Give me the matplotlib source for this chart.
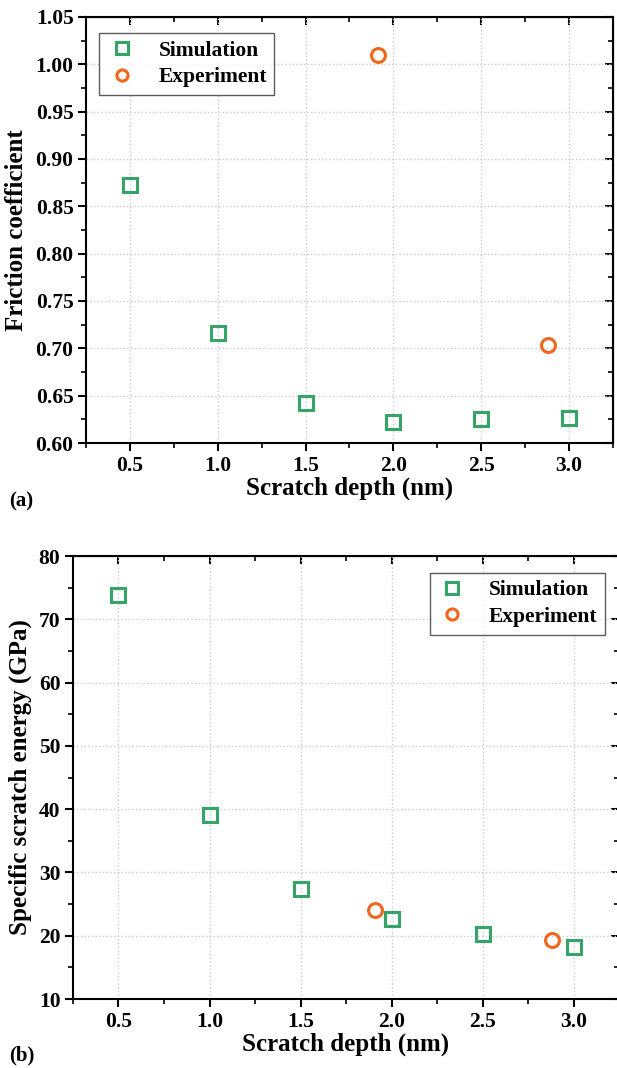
import matplotlib.pyplot as plt
from matplotlib.ticker import MultipleLocator, FormatStrFormatter

plt.rcParams['font.family'] = ['Liberation Serif', 'DejaVu Serif']
plt.rcParams['font.weight'] = 'bold'

# friction coefficient vs scratch depth
depth_sim = [0.5, 1.0, 1.5, 2.0, 2.5, 3.0]
friction_sim = [0.873, 0.716, 0.642, 0.622, 0.625, 0.626]
depth_exp = [1.91, 2.88]
friction_exp = [1.010, 0.703]

# specific scratch energy vs scratch depth
energy_sim = [73.9, 39.1, 27.4, 22.6, 20.3, 18.2]
energy_exp = [24.0, 19.4]

green = '#35a567'
orange = '#f0671c'


def style_axes(ax, ymajor, yminor, yfmt):
    ax.xaxis.set_major_locator(MultipleLocator(0.5))
    ax.xaxis.set_minor_locator(MultipleLocator(0.25))
    ax.yaxis.set_major_locator(MultipleLocator(ymajor))
    ax.yaxis.set_minor_locator(MultipleLocator(yminor))
    ax.xaxis.set_major_formatter(FormatStrFormatter('%.1f'))
    ax.yaxis.set_major_formatter(FormatStrFormatter(yfmt))
    ax.tick_params(which='major', direction='out', length=6, width=1.5,
                   labelsize=15.5, pad=3)
    ax.tick_params(which='minor', direction='out', length=3.5, width=1.2)
    for side in ax.spines.values():
        side.set_linewidth(1.5)
    # mirrored ticks on top/right point inward
    sec_x = ax.secondary_xaxis('top')
    sec_x.xaxis.set_major_locator(MultipleLocator(0.5))
    sec_x.xaxis.set_minor_locator(MultipleLocator(0.25))
    sec_x.tick_params(which='major', direction='in', length=6, width=1.5,
                      labeltop=False)
    sec_x.tick_params(which='minor', direction='in', length=3.5, width=1.2)
    sec_y = ax.secondary_yaxis('right')
    sec_y.yaxis.set_major_locator(MultipleLocator(ymajor))
    sec_y.yaxis.set_minor_locator(MultipleLocator(yminor))
    sec_y.tick_params(which='major', direction='in', length=6, width=1.5,
                      labelright=False)
    sec_y.tick_params(which='minor', direction='in', length=3.5, width=1.2)
    ax.grid(True, which='major', linestyle=':', color='#cccccc', linewidth=1.0)
    ax.set_axisbelow(True)


def add_legend(ax, loc, anchor):
    leg = ax.legend(loc=loc, bbox_to_anchor=anchor, borderaxespad=0,
                    fontsize=15.5, frameon=True, fancybox=False,
                    edgecolor='#333333', handletextpad=1.0, borderpad=0.35,
                    labelspacing=0.3, handlelength=1.4, markerscale=0.8)
    leg.get_frame().set_linewidth(1.0)
    return leg


fig = plt.figure(figsize=(6.17, 10.68), dpi=100)
ax1 = fig.add_axes([0.1394, 0.5852, 0.854, 0.3989])
ax2 = fig.add_axes([0.1183, 0.0646, 0.885, 0.4148])

mk = dict(linestyle='none', markersize=10, markeredgewidth=2.2,
          markerfacecolor='none')

ax1.plot(depth_sim, friction_sim, marker='s', color=green, label='Simulation', **mk)
ax1.plot(depth_exp, friction_exp, marker='o', color=orange, label='Experiment', **mk)
ax1.set_xlim(0.25, 3.25)
ax1.set_ylim(0.60, 1.05)
style_axes(ax1, 0.05, 0.025, '%.2f')
ax1.set_xlabel('Scratch depth (nm)', fontsize=18, fontweight='bold', labelpad=1)
ax1.set_ylabel('Friction coefficient', fontsize=18, fontweight='bold', labelpad=5)
add_legend(ax1, 'upper left', (0.025, 0.962))
fig.text(0.015, 0.526, '(a)', fontsize=15, fontweight='bold')

ax2.plot(depth_sim, energy_sim, marker='s', color=green, label='Simulation', **mk)
ax2.plot(depth_exp, energy_exp, marker='o', color=orange, label='Experiment', **mk)
ax2.set_xlim(0.25, 3.25)
ax2.set_ylim(10, 80)
style_axes(ax2, 10, 5, '%d')
ax2.set_xlabel('Scratch depth (nm)', fontsize=18, fontweight='bold', labelpad=1)
ax2.set_ylabel('Specific scratch energy (GPa)', fontsize=18, fontweight='bold',
               labelpad=5)
add_legend(ax2, 'upper right', (0.974, 0.962))
fig.text(0.015, 0.007, '(b)', fontsize=15, fontweight='bold')

fig.savefig('out.png', dpi=100)
